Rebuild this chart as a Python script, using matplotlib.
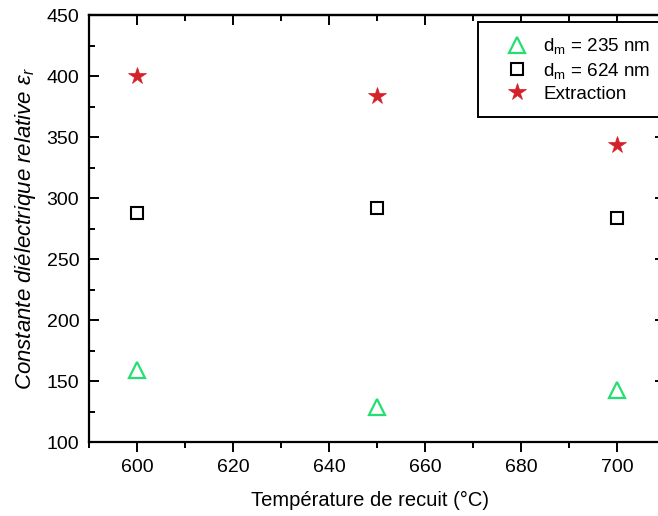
import matplotlib
matplotlib.use("Agg")
import matplotlib.pyplot as plt
from matplotlib.ticker import MultipleLocator

plt.rcParams['font.family'] = ['Liberation Sans', 'DejaVu Sans']
plt.rcParams['mathtext.fontset'] = 'custom'
plt.rcParams['mathtext.rm'] = 'Liberation Sans'
plt.rcParams['mathtext.it'] = 'Liberation Sans:italic'

temperature = [600, 650, 700]
eps_235 = [159, 129, 143]
eps_624 = [288, 292, 284]
eps_extraction = [400, 384, 344]

labels = ["d$_\\mathregular{m}$ = 235 nm", "d$_\\mathregular{m}$ = 624 nm", "Extraction"]

fig = plt.figure(figsize=(6.58, 5.16), dpi=100)
ax = fig.add_axes([89/658, 1-442.3/516, 576/658, (442.3-15.3)/516])

ax.plot(temperature, eps_235, linestyle='none', marker='^', markersize=11.5,
        markerfacecolor='none', markeredgecolor='#22e070', markeredgewidth=1.6, label=labels[0])
ax.plot(temperature, eps_624, linestyle='none', marker='s', markersize=9,
        markerfacecolor='none', markeredgecolor='black', markeredgewidth=1.5, label=labels[1])
ax.plot(temperature, eps_extraction, linestyle='none', marker='*', markersize=13,
        markerfacecolor='#d42028', markeredgecolor='#d42028', markeredgewidth=0.5, label=labels[2])

ax.set_xlim(590, 710)
ax.set_ylim(100, 450)
ax.xaxis.set_major_locator(MultipleLocator(20))
ax.xaxis.set_minor_locator(MultipleLocator(10))
ax.yaxis.set_major_locator(MultipleLocator(50))
ax.yaxis.set_minor_locator(MultipleLocator(25))

for s in ax.spines.values():
    s.set_linewidth(1.6)

ax.tick_params(axis='x', which='both', direction='out', bottom=True, top=False,
               labelsize=14, width=1.4, pad=5)
ax.tick_params(axis='x', which='major', length=7)
ax.tick_params(axis='x', which='minor', length=4)
ax.tick_params(axis='y', which='both', direction='in', left=True, right=True,
               labelsize=14, width=1.4, pad=7)
ax.tick_params(axis='y', which='major', length=7)
ax.tick_params(axis='y', which='minor', length=4)

secx = ax.secondary_xaxis('top')
secx.xaxis.set_major_locator(MultipleLocator(20))
secx.xaxis.set_minor_locator(MultipleLocator(10))
secx.tick_params(which='both', direction='in', labeltop=False, width=1.4)
secx.tick_params(which='major', length=7)
secx.tick_params(which='minor', length=4)
secx.spines['top'].set_linewidth(1.6)

ax.set_xlabel("Température de recuit (°C)", fontsize=14.5, labelpad=10)
ax.xaxis.set_label_coords(0.488, -0.115)
ax.set_ylabel("Constante diélectrique relative $\\mathit{\\varepsilon_r}$", fontsize=16,
              style='italic', labelpad=6)

leg = ax.legend(loc='upper left', bbox_to_anchor=(478/658, 1-22/516),
                bbox_transform=fig.transFigure, borderaxespad=0, fontsize=13.6,
                fancybox=False, framealpha=1, edgecolor='black', handletextpad=0.1,
                borderpad=0.75, labelspacing=0.25, handlelength=2.6)
leg.get_frame().set_linewidth(1.4)

fig.savefig("out.png", dpi=100)
